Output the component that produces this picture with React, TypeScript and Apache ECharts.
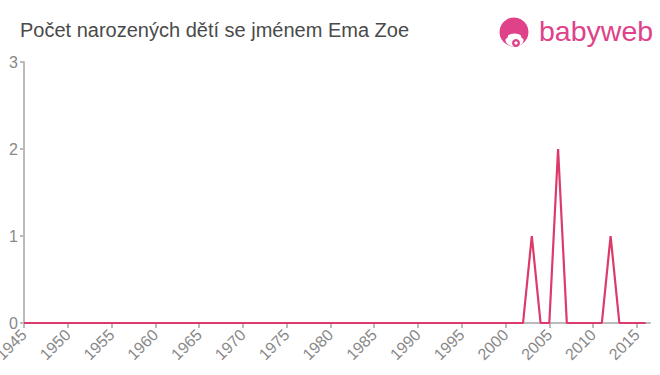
import React, { useEffect, useRef } from "react";
import * as echarts from "echarts";

const titleText = "Počet narozených dětí se jménem Ema Zoe";
const years: number[] = [
  1945, 1946, 1947, 1948, 1949, 1950, 1951, 1952, 1953, 1954,
  1955, 1956, 1957, 1958, 1959, 1960, 1961, 1962, 1963, 1964,
  1965, 1966, 1967, 1968, 1969, 1970, 1971, 1972, 1973, 1974,
  1975, 1976, 1977, 1978, 1979, 1980, 1981, 1982, 1983, 1984,
  1985, 1986, 1987, 1988, 1989, 1990, 1991, 1992, 1993, 1994,
  1995, 1996, 1997, 1998, 1999, 2000, 2001, 2002, 2003, 2004,
  2005, 2006, 2007, 2008, 2009, 2010, 2011, 2012, 2013, 2014,
  2015, 2016,
];
const counts: number[] = [
  0, 0, 0, 0, 0, 0, 0, 0, 0, 0,
  0, 0, 0, 0, 0, 0, 0, 0, 0, 0,
  0, 0, 0, 0, 0, 0, 0, 0, 0, 0,
  0, 0, 0, 0, 0, 0, 0, 0, 0, 0,
  0, 0, 0, 0, 0, 0, 0, 0, 0, 0,
  0, 0, 0, 0, 0, 0, 0, 0, 1, 0,
  0, 2, 0, 0, 0, 0, 0, 1, 0, 0,
  0, 0,
];
const xTicks: number[] = [1945, 1950, 1955, 1960, 1965, 1970, 1975, 1980, 1985, 1990, 1995, 2000, 2005, 2010, 2015];

export default function App() {
  const ref = useRef<HTMLDivElement>(null);
  useEffect(() => {
    const chart = echarts.init(ref.current!, null, { renderer: "svg" });
    const pink = "#e0428a";
    chart.setOption({
      animation: false,
      backgroundColor: "#ffffff",
      grid: { left: 24, right: 10, top: 62, bottom: 52, containLabel: false, outerBoundsMode: "none" },
      xAxis: {
        type: "value",
        min: 1945,
        max: 2016.5,
        interval: 5,
        axisLine: { show: true, lineStyle: { color: "#bbbbbb", width: 2 } },
        axisTick: { show: true, length: 5, customValues: xTicks, lineStyle: { color: "#bbbbbb", width: 2 } },
        axisLabel: {
          rotate: 45,
          showMaxLabel: false,
          hideOverlap: false,
          color: "#888888",
          fontSize: 16,
          fontFamily: "Liberation Sans, Arial, sans-serif",
          margin: 9,
          formatter: (v: number) => String(v),
        },
        splitLine: { show: false },
      },
      yAxis: {
        type: "value",
        min: 0,
        max: 3,
        interval: 1,
        axisLine: { show: true, lineStyle: { color: "#bbbbbb", width: 2 } },
        axisTick: { show: true, length: 4, lineStyle: { color: "#bbbbbb", width: 2 } },
        axisLabel: {
          color: "#888888",
          fontSize: 16,
          fontFamily: "Liberation Sans, Arial, sans-serif",
          margin: 6,
        },
        splitLine: { show: false },
      },
      series: [
        {
          type: "line",
          data: years.map((y, i) => [y, counts[i]]),
          showSymbol: false,
          symbol: "none",
          lineStyle: { color: "#dc3a6b", width: 2.2 },
          itemStyle: { color: "#dc3a6b" },
        },
      ],
      graphic: [
        {
          type: "text",
          left: 20,
          top: 20,
          style: {
            text: titleText,
            fill: "#4a4a4a",
            fontSize: 20,
            fontFamily: "Liberation Sans, Arial, sans-serif",
          },
        },
        { type: "circle", shape: { cx: 514, cy: 32, r: 14.5 }, style: { fill: pink } },
        { type: "ellipse", shape: { cx: 514.5, cy: 40, rx: 9, ry: 6.5 }, style: { fill: "#ffffff" } },
        { type: "circle", shape: { cx: 505, cy: 36, r: 3 }, style: { fill: pink } },
        { type: "circle", shape: { cx: 524, cy: 36, r: 3 }, style: { fill: pink } },
        { type: "circle", shape: { cx: 516, cy: 43, r: 4 }, style: { fill: pink } },
        { type: "circle", shape: { cx: 516, cy: 43, r: 1.6 }, style: { fill: "#ffffff" } },
        {
          type: "text",
          left: 539,
          top: 16,
          style: {
            text: "babyweb",
            fill: pink,
            fontSize: 28.5,
            fontFamily: "Liberation Sans, Arial, sans-serif",
          },
        },
      ],
    });
    return () => chart.dispose();
  }, []);
  return <div ref={ref} style={{ position: "fixed", left: 0, top: 0, width: 660, height: 375 }} />;
}
